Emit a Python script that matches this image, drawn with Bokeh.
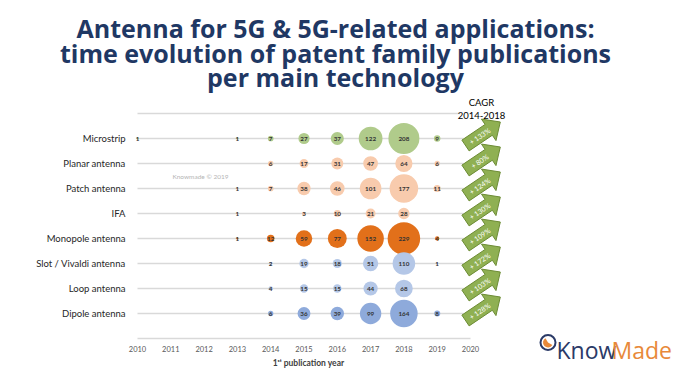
import math
from bokeh.plotting import figure
from bokeh.models import Range1d, ColumnDataSource
from bokeh.core.properties import value
from bokeh.embed import file_html
from bokeh.resources import INLINE

# ---------------- data ----------------
years = [2010, 2011, 2012, 2013, 2014, 2015, 2016, 2017, 2018, 2019]
axis_years = [2010, 2011, 2012, 2013, 2014, 2015, 2016, 2017, 2018, 2019, 2020]
technologies = ["Microstrip", "Planar antenna", "Patch antenna", "IFA",
                "Monopole antenna", "Slot / Vivaldi antenna", "Loop antenna", "Dipole antenna"]
microstrip = [1, None, None, 1, 7, 27, 37, 122, 208, 9]
planar     = [None, None, None, None, 6, 17, 31, 47, 64, 6]
patch      = [None, None, None, 1, 7, 38, 46, 101, 177, 11]
ifa        = [None, None, None, 1, None, 3, 10, 21, 28, None]
monopole   = [None, None, None, 1, 12, 59, 77, 152, 229, 4]
slot       = [None, None, None, None, 2, 19, 18, 51, 110, 1]
loop       = [None, None, None, None, 4, 15, 15, 44, 68, None]
dipole     = [None, None, None, None, 6, 36, 39, 99, 164, 8]
series = [microstrip, planar, patch, ifa, monopole, slot, loop, dipole]
colors = ["#b0cb8b", "#f8cbad", "#f8cbad", "#f8cbad", "#e2701a", "#b4c7e7", "#b4c7e7", "#8eaadb"]
cagr = ["+ 133%", "+ 80%", "+ 124%", "+ 130%", "+ 109%", "+ 172%", "+ 103%", "+ 128%"]
title_lines = ["Antenna for 5G & 5G-related applications:",
               "time evolution of patent family publications",
               "per main technology"]

# ---------------- geometry helpers (pixel <-> data) ----------------
W, H = 699, 375
PPX = 33.3          # px per year
X2010 = 137         # px of year 2010
ROW0 = 138          # px of first row
ROWH = 25           # px per row
x_start = 2010 - X2010 / PPX
x_end = x_start + W / PPX
y_bottom = (H - ROW0) / ROWH
y_top = (0 - ROW0) / ROWH


def X(px):
    return x_start + px / PPX


def Y(py):
    return (py - ROW0) / ROWH


p = figure(width=W, height=H, output_backend="svg", toolbar_location=None,
           x_range=Range1d(x_start, x_end), y_range=Range1d(y_bottom, y_top),
           x_axis_location=None, y_axis_location=None,
           min_border=0)
p.outline_line_color = None
p.xgrid.visible = False
p.ygrid.visible = False
p.background_fill_color = "white"
p.border_fill_color = "white"

FONT = value("Lato")

# row lines + top line + bottom axis line
rows = list(range(len(technologies)))
p.segment(x0=[years[0]] * len(rows), x1=[X(463)] * len(rows), y0=rows, y1=rows,
          line_color="#d9d9d9", line_width=1.5)
p.segment(x0=[years[0]], x1=[X(460)], y0=[-1], y1=[-1], line_color="#d9d9d9", line_width=1.5)
p.segment(x0=[axis_years[0]], x1=[axis_years[-1]], y0=[Y(338)], y1=[Y(338)],
          line_color="#d9d9d9", line_width=1.5)

# year tick labels and axis title
p.text(x=axis_years, y=[Y(348)] * len(axis_years), text=[str(v) for v in axis_years],
       text_align="center", text_baseline="middle", text_font=FONT,
       text_font_size="7.5px", text_color="#595959")
p.text(x=[X(308)], y=[Y(362)], text=["1\u02e2\u1d57 publication year"],
       text_align="center", text_baseline="middle", text_font=FONT,
       text_font_size="8.5px", text_font_style="bold", text_color="#404040")

# row labels
p.text(x=[X(125)] * len(rows), y=rows, text=technologies, text_align="right",
       text_baseline="middle", text_font=FONT, text_font_size="9.5px", text_color="#262626")

# bubbles
bx, by, bs, bc, bt = [], [], [], [], []
for i, s in enumerate(series):
    for yr, v in zip(years, s):
        if v is None:
            continue
        bx.append(yr)
        by.append(i)
        bs.append(2.15 * math.sqrt(v))
        bc.append(colors[i])
        bt.append(str(v))
src = ColumnDataSource(dict(x=bx, y=by, size=bs, color=bc, text=bt))
p.scatter(x="x", y="y", size="size", fill_color="color", line_color=None, source=src)
p.text(x="x", y="y", text="text", source=src, text_align="center", text_baseline="middle",
       text_font=FONT, text_font_style="bold", text_font_size="6.3px",
       text_color="#333333")

# CAGR arrows
theta = math.radians(34)
d = (math.cos(theta), -math.sin(theta))
n = (math.sin(theta), math.cos(theta))
w, hw, Lb, L = 13, 26, 28, 42
axs, ays, tx, ty = [], [], [], []
for i in rows:
    ry = ROW0 + ROWH * i
    T = (465, ry + 7)

    def pt(a, b):
        return (T[0] + a * d[0] + b * n[0], T[1] + a * d[1] + b * n[1])
    pts = [pt(0, w / 2), pt(Lb, w / 2), pt(Lb, hw / 2), pt(L, 0),
           pt(Lb, -hw / 2), pt(Lb, -w / 2), pt(0, -w / 2)]
    axs.append([X(a) for a, b in pts])
    ays.append([Y(b) for a, b in pts])
    c = pt(17, 0)
    tx.append(X(c[0]))
    ty.append(Y(c[1]))
p.patches(xs=axs, ys=ays, fill_color="#8fb052", line_color="#6d8c35", line_width=1)
p.text(x=tx, y=ty, text=cagr, angle=theta, text_align="center", text_baseline="middle",
       text_font=FONT, text_font_size="7px", text_color="white")

# CAGR header
p.text(x=[X(481), X(481)], y=[Y(102), Y(115)], text=["CAGR", "2014-2018"],
       text_align="center", text_baseline="middle", text_font=FONT,
       text_font_size="9.5px", text_color="#000000")

# title
p.text(x=[X(335)] * 3, y=[Y(27), Y(52), Y(76)], text=title_lines,
       text_align="center", text_baseline="alphabetic", text_font=value("Open Sans"),
       text_font_style="bold", text_font_size="25px", text_color="#1f3864")

# watermark
p.text(x=[X(200)], y=[Y(176)], text=["Knowmade \u00a9 2019"], text_align="center",
       text_baseline="middle", text_font=FONT, text_font_size="6.5px", text_color="#b5b5b5")

# logo
p.text(x=[X(556), X(611)], y=[Y(349), Y(349)], text=["Know", "Made"], text_align="left",
       text_baseline="alphabetic", text_font=value("Open Sans"), text_font_size="23px",
       text_color=["#2b3a67", "#e8893a"])
p.scatter(x=[X(547.5)], y=[Y(342)], size=15, fill_color="white",
          line_color="#2b3a67", line_width=2)
p.wedge(x=[X(547.5)], y=[Y(342)], radius=5, radius_units="screen",
        start_angle=math.radians(120), end_angle=math.radians(330),
        fill_color="#e8893a", line_color=None)

open("out.html", "w").write(file_html(p, INLINE))
